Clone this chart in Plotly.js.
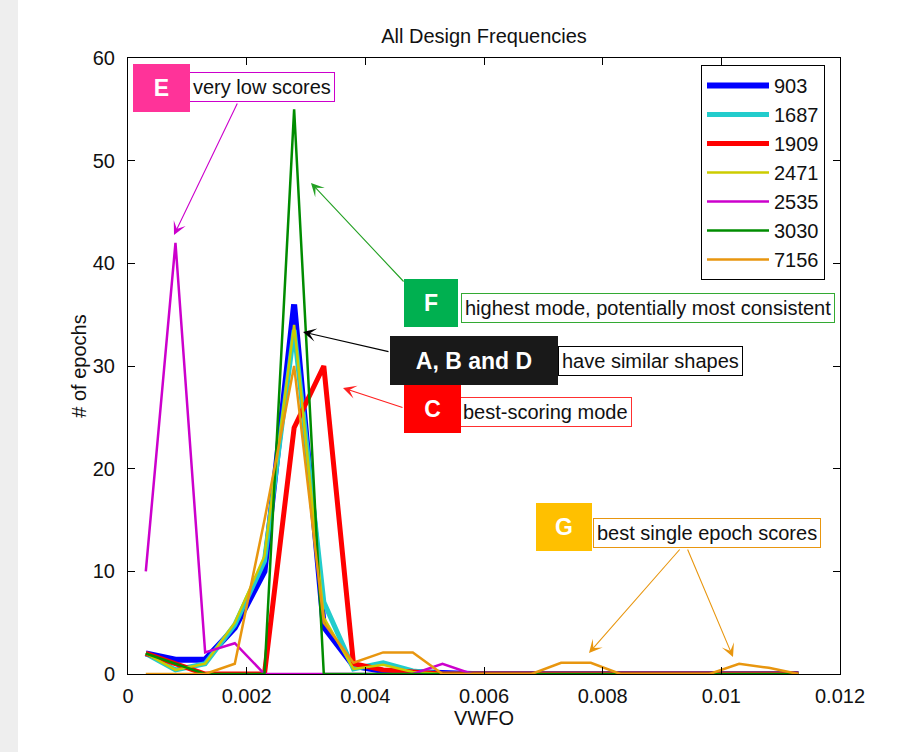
<!DOCTYPE html>
<html>
<head>
<meta charset="utf-8">
<script src="https://cdn.plot.ly/plotly-3.0.1.min.js"></script>
<style>
html,body{margin:0;padding:0;background:#fff;}
#chart{width:909px;height:752px;}
</style>
</head>
<body>
<div id="chart"></div>
<script>
// ---- data ----
const binCenters = [0.0003, 0.0008, 0.0013, 0.0018, 0.0023, 0.0028, 0.0033, 0.0038, 0.0043, 0.0048,
                    0.0053, 0.0058, 0.0063, 0.0068, 0.0073, 0.0078, 0.0083, 0.0088, 0.0093, 0.0098,
                    0.0103, 0.0108, 0.0113];
const seriesNames = ["903", "1687", "1909", "2471", "2535", "3030", "7156"];
const s903  = [2, 1.4, 1.4, 4.5, 10, 36, 4.6, 0.8, 0.3, 0.2, 0, 0, 0, 0, 0, 0, 0, 0, 0, 0, 0, 0, 0];
const s1687 = [2, 0.4, 1.0, 4.8, 11, 33.5, 7, 0.5, 1.1, 0.3, 0, 0, 0, 0, 0, 0, 0, 0, 0, 0, 0, 0, 0];
const s1909 = [2, 1, 0, 0, 0, 24, 30, 1, 0.4, 0.2, 0, 0, 0, 0, 0, 0, 0, 0, 0, 0, 0, 0, 0];
const s2471 = [2, 0.4, 1.0, 5.0, 11.5, 34, 5.5, 0.5, 0.9, 0.2, 0, 0, 0, 0, 0, 0, 0, 0, 0, 0, 0, 0, 0];
const s2535 = [10, 42, 2.1, 3.0, 0, 0, 0, 0, 0, 0, 1.0, 0, 0, 0, 0, 0, 0, 0, 0, 0, 0, 0, 0];
const s3030 = [2, 1, 0, 0, 0, 55, 0, 0, 0, 0, 0, 0, 0, 0, 0, 0, 0, 0, 0, 0, 0, 0, 0];
const s7156 = [0, 0, 0, 1, 15, 30, 5, 1.1, 2.1, 2.1, 0, 0, 0, 0, 1.1, 1.1, 0, 0, 0, 0, 1.0, 0.6, 0];
const xTickVals = [0, 0.002, 0.004, 0.006, 0.008, 0.01, 0.012];
const xTickText = ["0", "0.002", "0.004", "0.006", "0.008", "0.01", "0.012"];
const yTickVals = [0, 10, 20, 30, 40, 50, 60];

// ---- styles ----
const seriesValues = [s903, s1687, s1909, s2471, s2535, s3030, s7156];
const colors = ["#0000FF", "#22CCCC", "#FF0000", "#CCCC00", "#CC00CC", "#008C00", "#E8960F"];
const widths = [6, 5, 5, 2.5, 2.5, 2.5, 2.5];
const FONT = "Liberation Sans, Arial, sans-serif";

const traces = seriesNames.map((n, i) => ({
  type: "scatter", mode: "lines", name: n, legendgroup: "g" + i,
  x: binCenters, y: seriesValues[i],
  line: {color: colors[i], width: widths[i]}
}));

// pixel -> paper helpers (plot area: x 128..840, y 58..674)
const L = 128, R = 840, T = 58, B = 674;
const px = v => (v - L) / (R - L);
const py = v => (B - v) / (B - T);

function textBox(txt, cx, cy, border) {
  return {xref: "paper", yref: "paper", x: px(cx), y: py(cy), xanchor: "center", yanchor: "middle",
    text: txt, showarrow: false, font: {family: FONT, size: 20, color: "#111"},
    bgcolor: "white", bordercolor: border, borderwidth: 1, borderpad: 3};
}
function letterBox(txt, x0, y0, x1, y1, fill) {
  return {xref: "paper", yref: "paper", x: px((x0 + x1) / 2), y: py((y0 + y1) / 2),
    xanchor: "center", yanchor: "middle", text: "<b>" + txt + "</b>", showarrow: false,
    width: x1 - x0, height: y1 - y0, bgcolor: fill, borderpad: 0, borderwidth: 0,
    font: {family: FONT, size: 23, color: "white"}};
}
function arrow(tx, ty, hx, hy, color) {
  return {xref: "paper", yref: "paper", x: px(hx), y: py(hy), axref: "pixel", ayref: "pixel",
    ax: tx - hx, ay: ty - hy, text: "", showarrow: true, arrowhead: 3, arrowsize: 2,
    arrowwidth: 1.1, arrowcolor: color, standoff: 0, startstandoff: 0};
}

const annotations = [
  arrow(238, 102, 174, 235, "#CC00CC"),
  arrow(405, 283, 311, 183, "#22A022"),
  arrow(390, 352, 303, 332, "#000000"),
  arrow(404, 408, 343, 388, "#FF2020"),
  arrow(681, 548, 589, 653, "#E8960F"),
  arrow(687, 548, 733, 657, "#E8960F"),
  textBox("very low scores", 261.5, 87.5, "#CC00CC"),
  textBox("highest mode, potentially most consistent", 647.5, 308, "#33AA33"),
  textBox("have similar shapes", 650, 360.5, "#000000"),
  textBox("best-scoring mode", 545, 411.5, "#FF3030"),
  textBox("best single epoch scores", 707, 533, "#E8960F"),
  letterBox("E", 133, 64, 190, 112, "#FF3399"),
  letterBox("F", 404, 279, 458, 327, "#00B050"),
  letterBox("A, B and D", 390, 336, 558, 385, "#191919"),
  letterBox("C", 404, 385, 461, 433, "#FF0000"),
  letterBox("G", 536, 503, 592, 551, "#FFC000")
];

const axisCommon = {
  showline: true, linecolor: "#000", linewidth: 1, mirror: "ticks",
  ticks: "inside", ticklen: 7, tickcolor: "#000", tickwidth: 1,
  showgrid: false, zeroline: false, fixedrange: true,
  tickfont: {family: FONT, size: 20, color: "#111"}
};

const layout = {
  width: 909, height: 752,
  margin: {l: L, r: 909 - R, t: T, b: 752 - B},
  paper_bgcolor: "#fff", plot_bgcolor: "#fff",
  font: {family: FONT, size: 20, color: "#111"},
  title: {text: "All Design Frequencies", font: {family: FONT, size: 20, color: "#111"},
          x: 0.5, xref: "paper", xanchor: "center", y: 1 - 36 / 752, yref: "container", yanchor: "middle"},
  xaxis: Object.assign({}, axisCommon, {range: [0, 0.012], tickvals: xTickVals, ticktext: xTickText,
          ticklabelstandoff: 4,
          title: {text: "VWFO", font: {family: FONT, size: 20, color: "#111"}, standoff: 2}}),
  yaxis: Object.assign({}, axisCommon, {range: [0, 60], tickvals: yTickVals,
          ticklabelstandoff: 8,
          title: {text: "# of epochs", font: {family: FONT, size: 20, color: "#111"}, standoff: 0}}),
  legend: {x: px(701), y: py(65), xanchor: "left", yanchor: "top", bgcolor: "#fff",
           bordercolor: "#000", borderwidth: 1, font: {family: FONT, size: 20, color: "#111"},
           itemwidth: 62, tracegroupgap: 0, traceorder: "grouped"},
  showlegend: true,
  annotations: annotations,
  shapes: [{type: "rect", xref: "paper", yref: "paper", x0: px(0), x1: px(18), y0: py(752), y1: py(0),
            fillcolor: "#eeeeee", line: {width: 0}, layer: "below"}]
};

Plotly.newPlot("chart", traces, layout, {displayModeBar: false, staticPlot: true});
</script>
</body>
</html>
